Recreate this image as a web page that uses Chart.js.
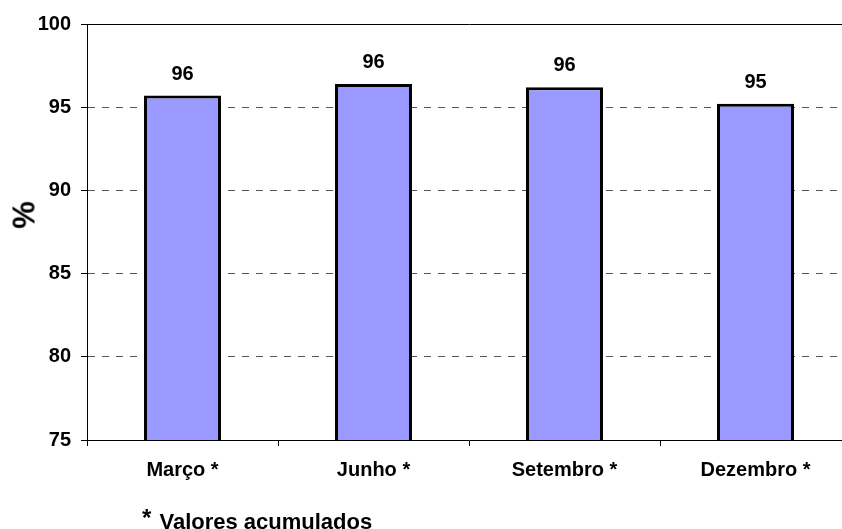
<!DOCTYPE html>
<html>
<head>
<meta charset="utf-8">
<title>Valores acumulados</title>
<script src="https://cdn.jsdelivr.net/npm/chart.js@4.4.1/dist/chart.umd.min.js"></script>
<style>
  html, body {
    margin: 0;
    padding: 0;
    background: #fff;
    overflow: hidden;
  }

  .wrap {
    position: relative;
    width: 842px;
    height: 529px;
    overflow: hidden;
    font-family: "Liberation Sans", Arial, sans-serif;
    font-weight: bold;
    color: #000;
  }

  /* canvas is a bit wider than the window: the plot runs past the right edge */
  .chart-box {
    position: absolute;
    left: 0;
    top: 0;
  }

  .y-title {
    position: absolute;
    left: 24px;
    top: 215px;
    font-size: 31px;
    line-height: 1;
    transform: translate(-50%, -50%) rotate(-90deg);
    white-space: nowrap;
  }

  .note {
    position: absolute;
    left: 142px;
    top: 509px;
    font-size: 22px;
    line-height: 1;
    white-space: nowrap;
  }

  .note .star {
    font-size: 24px;
    position: relative;
    top: -3px;
    margin-right: 2px;
  }
</style>
</head>
<body>
<div class="wrap">
  <div class="chart-box">
    <canvas id="chart" width="860" height="529"></canvas>
  </div>
  <div class="y-title">%</div>
  <div class="note"><span class="star">*</span> Valores acumulados</div>
</div>

<script>
const months = ['Março *', 'Junho *', 'Setembro *', 'Dezembro *'];
const values = [95.7, 96.4, 96.2, 95.2];
const yTicks = [75, 80, 85, 90, 95, 100];

const FONT = '"Liberation Sans", Arial, sans-serif';

// Value labels above each bar (rounded like the original)
const valueLabels = {
  id: 'valueLabels',
  afterDatasetsDraw(chart) {
    const { ctx } = chart;
    const meta = chart.getDatasetMeta(0);
    ctx.save();
    ctx.font = `bold 20px ${FONT}`;
    ctx.fillStyle = '#000';
    ctx.textAlign = 'center';
    ctx.textBaseline = 'alphabetic';
    meta.data.forEach((bar, i) => {
      ctx.fillText(String(Math.round(values[i])), bar.x, bar.y - 16);
    });
    ctx.restore();
  }
};

new Chart(document.getElementById('chart'), {
  type: 'bar',
  data: {
    labels: months,
    datasets: [{
      data: values,
      backgroundColor: '#9999FF',
      borderColor: '#000',
      borderWidth: 3,
      barPercentage: 0.403,
      categoryPercentage: 1
    }]
  },
  options: {
    responsive: false,
    animation: false,
    devicePixelRatio: 1,
    layout: {
      padding: { top: 24, right: 9, bottom: 0, left: 0 }
    },
    plugins: {
      legend: { display: false },
      tooltip: { enabled: false }
    },
    scales: {
      x: {
        grid: {
          offset: true,
          drawOnChartArea: false,
          tickLength: 6,
          color: '#000',
          tickColor: '#000',
          tickBorderDash: []
        },
        border: { color: '#000', width: 1 },
        ticks: {
          color: '#000',
          padding: 12,
          maxRotation: 0,
          font: { family: FONT, size: 20, weight: 'bold' }
        },
        afterFit(scale) {
          scale.height = 89;
        }
      },
      y: {
        min: yTicks[0],
        max: yTicks[yTicks.length - 1],
        afterBuildTicks(scale) {
          scale.ticks = yTicks.map(v => ({ value: v }));
        },
        grid: {
          color(ctx) {
            if (!ctx.tick) return '#000';
            if (ctx.tick.value === 100) return '#000';
            if (ctx.tick.value === 75) return 'rgba(0,0,0,0)';
            return '#555';
          },
          tickColor: '#000',
          tickLength: 6,
          tickBorderDash: []
        },
        border: {
          color: '#000',
          width: 1,
          dash(ctx) {
            return ctx.tick && ctx.tick.value !== 100 ? [7, 7] : [];
          }
        },
        ticks: {
          color: '#000',
          padding: 10,
          font: { family: FONT, size: 20, weight: 'bold' }
        },
        afterFit(scale) {
          scale.width = 87;
        }
      }
    }
  },
  plugins: [valueLabels]
});
</script>
</body>
</html>
